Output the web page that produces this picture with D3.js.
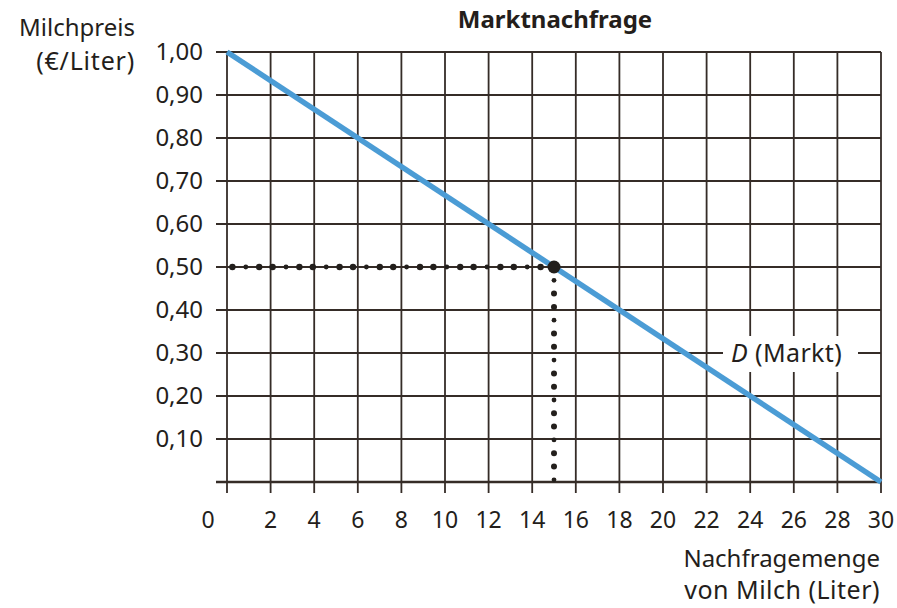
<!DOCTYPE html>
<html>
<head>
<meta charset="utf-8">
<script src="https://cdn.jsdelivr.net/npm/d3@7"></script>
<style>
body { margin: 0; background: #fff; }
text { font-family: "Noto Sans", sans-serif; fill: #241e1b; }
</style>
</head>
<body>
<svg width="897" height="608"></svg>
<script>
// Data
var xTicks = [0, 2, 4, 6, 8, 10, 12, 14, 16, 18, 20, 22, 24, 26, 28, 30];
var yTicks = [0.1, 0.2, 0.3, 0.4, 0.5, 0.6, 0.7, 0.8, 0.9, 1.0];
var demandQ = [0, 30];
var demandP = [1.0, 0];
var pointQ = 15, pointP = 0.5;

var svg = d3.select("svg");
var ink = "#352c27";

var x = d3.scaleLinear().domain([0, 30]).range([227, 881]);
var y = d3.scaleLinear().domain([0, 1]).range([482, 52]);

var fmt = (d) => d3.format(".2f")(d).replace(".", ",");

// Grid - horizontal
svg.append("g")
	.selectAll("line")
	.data(yTicks)
	.enter().append("line")
	.attr("x1", 216).attr("x2", x(30))
	.attr("y1", (d) => y(d)).attr("y2", (d) => y(d))
	.attr("stroke", ink).attr("stroke-width", 1.8);

// Grid - vertical
svg.append("g")
	.selectAll("line")
	.data(xTicks)
	.enter().append("line")
	.attr("x1", (d) => x(d)).attr("x2", (d) => x(d))
	.attr("y1", y(1)).attr("y2", 493)
	.attr("stroke", ink).attr("stroke-width", 1.8);

// x axis line
svg.append("line")
	.attr("x1", 216).attr("x2", x(30))
	.attr("y1", y(0)).attr("y2", y(0))
	.attr("stroke", ink).attr("stroke-width", 2.4);

// Tick labels
svg.append("g")
	.selectAll("text")
	.data(yTicks)
	.enter().append("text")
	.attr("x", 203).attr("y", (d) => y(d) + 8)
	.attr("text-anchor", "end")
	.style("font-size", "24px")
	.text(fmt);

svg.append("g")
	.selectAll("text")
	.data(xTicks)
	.enter().append("text")
	.attr("x", (d) => d == 0 ? x(d) - 19 : x(d))
	.attr("y", 528)
	.attr("text-anchor", "middle")
	.style("font-size", "23px")
	.text((d) => d);

// Label background + label for D
svg.append("rect")
	.attr("x", 723).attr("y", 336)
	.attr("width", 135).attr("height", 36)
	.attr("fill", "#fff");

var lab = svg.append("text")
	.attr("x", 731).attr("y", 362)
	.style("font-size", "25px")
	.style("letter-spacing", "0.4px");
lab.append("tspan").style("font-style", "italic").text("D");
lab.append("tspan").text(" (Markt)");

// Demand line
svg.append("line")
	.attr("x1", x(demandQ[0])).attr("y1", y(demandP[0]))
	.attr("x2", x(demandQ[1])).attr("y2", y(demandP[1]))
	.attr("stroke", "#4b9cd5").attr("stroke-width", 5.5);

// Dotted guides
var stepQ = x.invert(x(0) + 13.4) - 0;
var hDots = d3.range(pointQ - stepQ, -0.01, -stepQ);
svg.append("g")
	.selectAll("circle")
	.data(hDots)
	.enter().append("circle")
	.attr("cx", (d) => x(d)).attr("cy", y(pointP))
	.attr("r", (d, i) => i % 3 == 1 ? 2.4 : 3.2)
	.attr("fill", "#231f1c");

var stepP = y.invert(y(0) - 13.3);
var vDots = d3.range(pointP - stepP, -0.005, -stepP);
svg.append("g")
	.selectAll("circle")
	.data(vDots)
	.enter().append("circle")
	.attr("cx", x(pointQ)).attr("cy", (d) => y(d))
	.attr("r", (d, i) => i % 3 == 0 ? 2.4 : 3.0)
	.attr("fill", "#231f1c");

svg.append("circle")
	.attr("cx", x(pointQ)).attr("cy", y(pointP))
	.attr("r", 6.5).attr("fill", "#231f1c");

// Titles
svg.append("text")
	.attr("x", 555).attr("y", 28)
	.attr("text-anchor", "middle")
	.style("font-size", "24px").style("font-weight", "bold")
	.text("Marktnachfrage");

svg.append("text")
	.attr("x", 135).attr("y", 36)
	.attr("text-anchor", "end")
	.style("font-size", "24px")
	.text("Milchpreis");
svg.append("text")
	.attr("x", 135).attr("y", 70)
	.attr("text-anchor", "end")
	.style("font-size", "25px")
	.style("letter-spacing", "0.8px")
	.text("(€/Liter)");

svg.append("text")
	.attr("x", 880).attr("y", 567)
	.attr("text-anchor", "end")
	.style("font-size", "24px")
	.text("Nachfragemenge");
svg.append("text")
	.attr("x", 880).attr("y", 599)
	.attr("text-anchor", "end")
	.style("font-size", "25px")
	.style("letter-spacing", "0.5px")
	.text("von Milch (Liter)");
</script>
</body>
</html>
